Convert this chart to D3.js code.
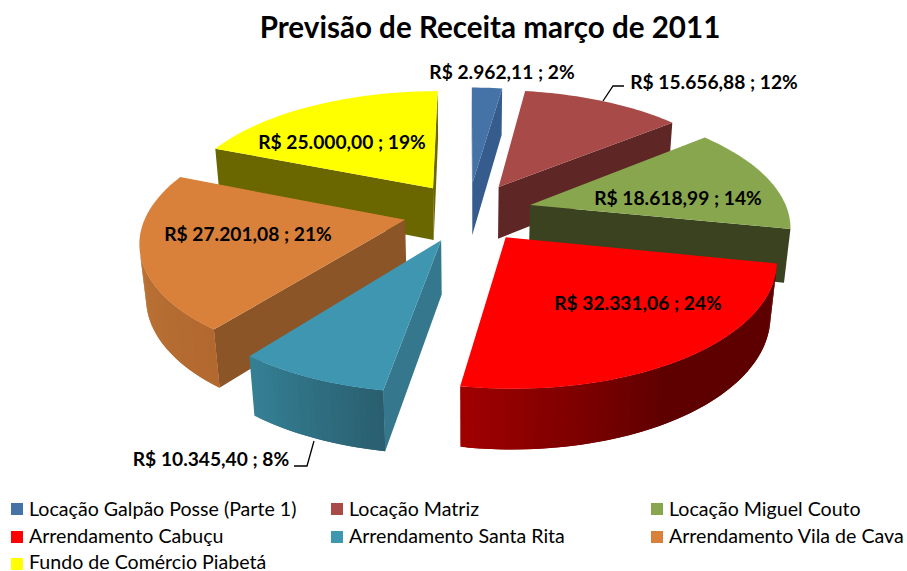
<!DOCTYPE html>
<html>
<head>
<meta charset="utf-8">
<script src="https://d3js.org/d3.v7.min.js"></script>
<style>
  body { margin: 0; background: #fff; }
  text { font-family: Lato, "Open Sans", sans-serif; fill: #000; }
</style>
</head>
<body>
<div id="chartContainer"></div>
<script>
// chart data
const categories = ["Locação Galpão Posse (Parte 1)", "Locação Matriz", "Locação Miguel Couto",
  "Arrendamento Cabuçu", "Arrendamento Santa Rita", "Arrendamento Vila de Cava", "Fundo de Comércio Piabetá"];
const values = [2962.11, 15656.88, 18618.99, 32331.06, 10345.40, 27201.08, 25000.00];
const title = "Previsão de Receita março de 2011";

// colours per slice: top face, cut wall, outer wall (back end and front end of the arc)
const topColors = ["#4573a7", "#a84a48", "#88a64e", "#ff0000", "#3f96b0", "#d9813b", "#ffff00"];
const cutColors = ["#355c8c", "#5e2625", "#3a421f", "#5e0000", "#35788e", "#8b5528", "#6a6600"];
const outerFrom = ["#355c8c", "#5e2625", "#3a421f", "#5e0000", "#295e6e", "#b2682f", "#6a6600"];
const outerTo = ["#355c8c", "#5e2625", "#3a421f", "#a00000", "#358095", "#c07b3a", "#6a6600"];

// label placement (centre of the text)
const labelX = [502, 714, 678, 638, 211, 248, 342];
const labelY = [72, 82, 198, 303, 459, 234, 142];

const chartWidth = 907;
const chartHeight = 571;

// pie projection, fitted by eye
const cx = 468, cy = 212;
const radiusX = 258, radiusY = 119;
const perspective = 0.156;
const explode = 0.25;
const depth = 54;
const depthShrink = 0.02;

function project(X, Y, bottom) {
  const w = 1 - perspective * Y + (bottom ? depthShrink : 0);
  return [cx + radiusX * X / w, cy + (radiusY * Y + (bottom ? depth : 0)) / w];
}

const locale = d3.formatLocale({ decimal: ",", thousands: ".", grouping: [3], currency: ["R$ ", ""] });
const money = locale.format("$,.2f");
const total = d3.sum(values);
const labelText = d => `${money(d)} ; ${Math.round(d / total * 100)}%`;

const pie = d3.pie().sort(null).value(d => d)(values);
const line = d3.line();

const svg = d3.select("#chartContainer").append("svg")
  .attr("width", chartWidth)
  .attr("height", chartHeight)
  .style("display", "block");

svg.append("text")
  .attr("x", 490)
  .attr("y", 28)
  .attr("dy", "0.35em")
  .attr("text-anchor", "middle")
  .style("font-size", "29.6px")
  .style("font-weight", "bold")
  .text(title);

// back slices first
const order = d3.range(pie.length).sort((a, b) => {
  const ma = (pie[a].startAngle + pie[a].endAngle) / 2;
  const mb = (pie[b].startAngle + pie[b].endAngle) / 2;
  return -Math.cos(ma) - -Math.cos(mb);
});

order.forEach(i => {
  const d = pie[i];
  const mid = (d.startAngle + d.endAngle) / 2;
  const ox = Math.sin(mid) * explode;
  const oy = -Math.cos(mid) * explode;
  const g = svg.append("g").attr("class", "slice");

  const steps = Math.max(4, Math.round((d.endAngle - d.startAngle) / 0.02));
  const angles = d3.range(steps + 1).map(k => d.startAngle + (d.endAngle - d.startAngle) * k / steps);
  const rim = angles.map(a => [ox + Math.sin(a), oy - Math.cos(a)]);
  const apex = [ox, oy];

  const quad = (p, q) => [project(p[0], p[1], false), project(q[0], q[1], false),
    project(q[0], q[1], true), project(p[0], p[1], true)];

  // cut walls, only the ones turned to the viewer
  [quad(apex, rim[0]), quad(rim[steps], apex)].forEach(q => {
    if (d3.polygonArea(q) > 0) {
      g.append("path").attr("d", line(q) + "Z").attr("fill", cutColors[i]);
    }
  });

  // outer wall in thin strips so the shading bands like the original
  // each strip runs over the next one, which hides the seams
  const shade = d3.scaleLinear()
    .domain(i === 3 ? [0, 0.55, 1] : [0, 1])
    .range(i === 3 ? [outerFrom[i], outerFrom[i], outerTo[i]] : [outerFrom[i], outerTo[i]])
    .interpolate(d3.interpolateRgb);
  d3.range(steps).forEach(k => {
    const q = quad(rim[k], rim[k + 1]);
    if (d3.polygonArea(q) > 0) {
      const next = rim[Math.max(0, k - 1)];
      g.append("path").attr("d", line(quad(next, rim[k + 1])) + "Z")
        .attr("fill", shade(k / steps));
    }
  });

  // top face
  const top = [apex].concat(rim).map(p => project(p[0], p[1], false));
  g.append("path").attr("d", line(top) + "Z").attr("fill", topColors[i]);
});

// leader lines for the two outside labels
const leaders = [
  [[603, 101], [613, 86], [624, 86]],
  [[314, 441], [307, 466], [294, 466]]
];
svg.selectAll(".leader").data(leaders).enter().append("path")
  .attr("class", "leader")
  .attr("d", d => line(d))
  .attr("fill", "none")
  .attr("stroke", "#000")
  .attr("stroke-width", 1.3);

svg.selectAll(".label").data(values).enter().append("text")
  .attr("class", "label")
  .attr("x", (d, i) => labelX[i])
  .attr("y", (d, i) => labelY[i])
  .attr("dy", "0.35em")
  .attr("text-anchor", "middle")
  .style("font-size", "19.2px")
  .style("font-weight", "bold")
  .text(labelText);

// legend, three columns
const legendCols = [11, 331, 651];
const swatchRows = [503, 531, 558];
const textBaselines = [516, 543, 569];
const legend = svg.selectAll(".legend").data(categories).enter().append("g")
  .attr("class", "legend");
legend.append("rect")
  .attr("x", (d, i) => legendCols[i % 3])
  .attr("y", (d, i) => swatchRows[Math.floor(i / 3)])
  .attr("width", 12)
  .attr("height", 12)
  .attr("fill", (d, i) => topColors[i]);
legend.append("text")
  .attr("x", (d, i) => legendCols[i % 3] + 18)
  .attr("y", (d, i) => textBaselines[Math.floor(i / 3)])
  .style("font-size", "19.6px")
  .text(d => d);
</script>
</body>
</html>
